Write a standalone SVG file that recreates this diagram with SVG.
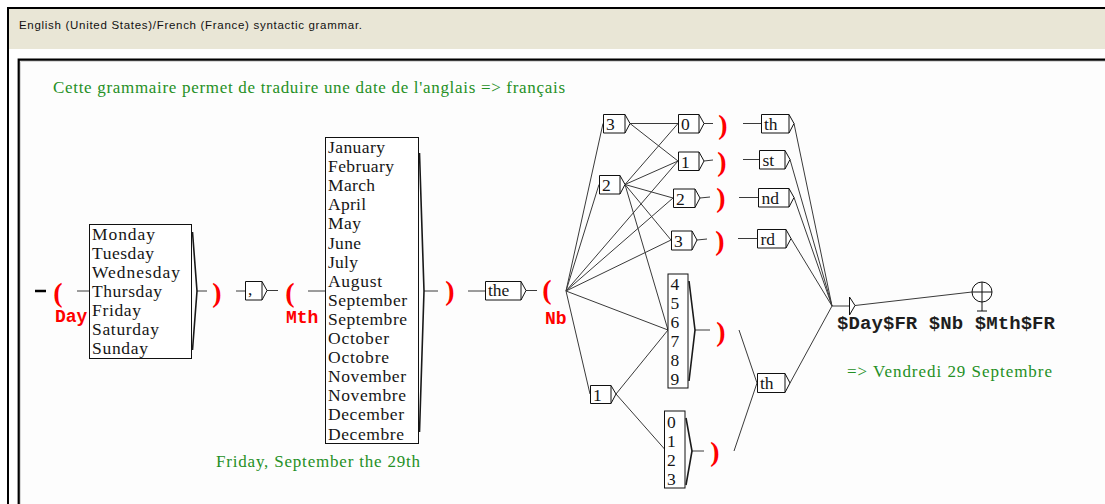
<svg xmlns="http://www.w3.org/2000/svg" width="1105" height="504" viewBox="0 0 1105 504">
<style>
.bx{fill:#fff;stroke:#111;stroke-width:1}
.lb{font-family:"Liberation Serif","Times New Roman",serif;font-size:17.5px;fill:#161616}
.ln{stroke:#3a3a3a;stroke-width:1;fill:none}
.br{stroke:#1a1a1a;stroke-width:1.6;fill:none}
.pa{font-family:"Liberation Serif","Times New Roman",serif;font-size:28px;font-weight:bold;fill:#f00;text-anchor:middle}
.vn{font-family:"Liberation Mono","Courier New",monospace;font-weight:bold;font-size:18px;fill:#f00}
.out{font-family:"Liberation Mono","Courier New",monospace;font-weight:bold;font-size:19px;fill:#1e1e1e}
.cm{font-family:"Liberation Serif","Times New Roman",serif;font-size:17px;fill:#259025}
</style>

<!-- window frame and title band -->
<rect x="0" y="0" width="1105" height="504" fill="#fff"/>
<rect x="9" y="9" width="1096" height="40" fill="#e9e6d6"/>
<path d="M8,504 V8 H1105" fill="none" stroke="#000" stroke-width="2"/>
<text x="19" y="29" font-family="'Liberation Sans',Arial,sans-serif" font-size="11.5" fill="#111" textLength="343">English (United States)/French (France) syntactic grammar.</text>
<rect x="19" y="60" width="1086" height="444" fill="#fdfdfd"/>
<path d="M18.7,504 V59.6 H1105" fill="none" stroke="#000" stroke-width="2.2"/>
<path d="M20.5,504 V61.5 H1105" fill="none" stroke="#d8d8d8" stroke-width="1"/>

<!-- comments -->
<g id="comments">
<text class="cm" x="53" y="93" textLength="512">Cette grammaire permet de traduire une date de l'anglais =&gt; français</text>
<text class="cm" x="216" y="467" textLength="204">Friday, September the 29th</text>
<text class="cm" x="847" y="377" textLength="205">=&gt; Vendredi 29 Septembre</text>
</g>

<!-- transitions -->
<g id="connectors" class="ln">
<line x1="77" y1="291" x2="89" y2="291"/>
<line x1="197" y1="291" x2="207" y2="291"/>
<line x1="236" y1="291" x2="245" y2="291"/>
<line x1="267" y1="290.5" x2="278" y2="290.5"/>
<line x1="308" y1="291" x2="325" y2="291"/>
<line x1="424" y1="291" x2="438" y2="291"/>
<line x1="468" y1="291" x2="485" y2="291"/>
<line x1="526" y1="290.5" x2="537" y2="290.5"/>
<!-- fan out of Nb -->
<line x1="566" y1="291" x2="603" y2="123.5"/>
<line x1="566" y1="291" x2="599" y2="184.5"/>
<line x1="566" y1="291" x2="678" y2="161"/>
<line x1="566" y1="291" x2="673" y2="198"/>
<line x1="566" y1="291" x2="671" y2="240"/>
<line x1="566" y1="291" x2="668" y2="330"/>
<line x1="566" y1="291" x2="590" y2="394"/>
<!-- from 3 -->
<line x1="630" y1="123.5" x2="678" y2="123.5"/>
<line x1="630" y1="123.5" x2="678" y2="161"/>
<!-- from 2 -->
<line x1="625" y1="184.5" x2="678" y2="123.5"/>
<line x1="625" y1="184.5" x2="678" y2="161"/>
<line x1="625" y1="184.5" x2="673" y2="198"/>
<line x1="625" y1="184.5" x2="671" y2="240"/>
<line x1="625" y1="184.5" x2="668" y2="330"/>
<!-- from 1 -->
<line x1="616" y1="394" x2="668" y2="330"/>
<line x1="616" y1="394" x2="664.5" y2="449"/>
<!-- into closing parens -->
<line x1="704" y1="123.5" x2="713" y2="123.5"/>
<line x1="704" y1="161" x2="713" y2="160"/>
<line x1="700" y1="198" x2="710" y2="197"/>
<line x1="697" y1="240" x2="707" y2="239"/>
<line x1="695" y1="330" x2="710" y2="330"/>
<line x1="692" y1="451" x2="704" y2="451"/>
<!-- parens to suffixes -->
<line x1="743" y1="123.5" x2="761" y2="123.5"/>
<line x1="743" y1="159.5" x2="759" y2="159.5"/>
<line x1="739" y1="197.5" x2="758" y2="197.5"/>
<line x1="738" y1="238.5" x2="757" y2="238.5"/>
<line x1="739" y1="330" x2="757" y2="383"/>
<line x1="734" y1="451" x2="757" y2="383"/>
<!-- suffixes to output -->
<line x1="794" y1="123.5" x2="832" y2="306"/>
<line x1="790" y1="159.5" x2="832" y2="306"/>
<line x1="794" y1="197.5" x2="832" y2="306"/>
<line x1="791" y1="238.5" x2="832" y2="306"/>
<line x1="790" y1="383" x2="832" y2="306"/>
<line x1="832" y1="306" x2="849.5" y2="306"/>
<line x1="855" y1="305.5" x2="972" y2="292"/>
</g>

<!-- initial state -->
<g id="initial">
<line x1="35" y1="291" x2="46" y2="291" stroke="#000" stroke-width="2.5"/>
</g>

<!-- variable Day -->
<g id="day-open">
<text class="pa" x="58" y="302">(</text>
<text class="vn" x="55" y="322">Day</text>
</g>
<g id="day-box">
<rect class="bx" x="89.5" y="224.5" width="102" height="134"/>
<text class="lb" x="92" y="240" textLength="63">Monday</text>
<text class="lb" x="92" y="259" textLength="62">Tuesday</text>
<text class="lb" x="92" y="278" textLength="88">Wednesday</text>
<text class="lb" x="92" y="297" textLength="70">Thursday</text>
<text class="lb" x="92" y="316" textLength="49">Friday</text>
<text class="lb" x="92" y="335" textLength="67">Saturday</text>
<text class="lb" x="92" y="354" textLength="56">Sunday</text>
<polyline class="br" points="192.5,232 197,291 192.5,350"/>
</g>
<g id="day-close"><text class="pa" x="217" y="302">)</text></g>

<g id="comma">
<path class="bx" d="M245.5,281.5 H262 V300 H245.5 Z M262,281.5 L267,290.5 L262,300"/>
<text class="lb" x="248" y="295">,</text>
</g>

<!-- variable Mth -->
<g id="mth-open">
<text class="pa" x="290" y="302">(</text>
<text class="vn" x="286" y="323">Mth</text>
</g>
<g id="mth-box">
<rect class="bx" x="325.5" y="137.5" width="93" height="306"/>
<text class="lb" x="328" y="153" textLength="57">January</text>
<text class="lb" x="328" y="172.1" textLength="66">February</text>
<text class="lb" x="328" y="191.2" textLength="47">March</text>
<text class="lb" x="328" y="210.3" textLength="38">April</text>
<text class="lb" x="328" y="229.4" textLength="33">May</text>
<text class="lb" x="328" y="248.5" textLength="33">June</text>
<text class="lb" x="328" y="267.6" textLength="30">July</text>
<text class="lb" x="328" y="286.7" textLength="54">August</text>
<text class="lb" x="328" y="305.8" textLength="79">September</text>
<text class="lb" x="328" y="324.9" textLength="79">Septembre</text>
<text class="lb" x="328" y="344" textLength="61">October</text>
<text class="lb" x="328" y="363.1" textLength="61">Octobre</text>
<text class="lb" x="328" y="382.2" textLength="78">November</text>
<text class="lb" x="328" y="401.3" textLength="78">Novembre</text>
<text class="lb" x="328" y="420.4" textLength="76">December</text>
<text class="lb" x="328" y="439.5" textLength="76">Decembre</text>
<polyline class="br" points="419.5,153 424,291 419.5,432"/>
</g>
<g id="mth-close"><text class="pa" x="450" y="300">)</text></g>

<g id="the">
<path class="bx" d="M485.5,281.5 H521 V300 H485.5 Z M521,281.5 L526,290.5 L521,300"/>
<text class="lb" x="488" y="296">the</text>
</g>

<!-- variable Nb -->
<g id="nb-open">
<text class="pa" x="547" y="299" font-size="26">(</text>
<text class="vn" x="545" y="324">Nb</text>
</g>

<g id="n3">
<path class="bx" d="M603.5,114.5 H625 V133 H603.5 Z M625,114.5 L630,123.5 L625,133"/>
<text class="lb" x="606" y="130">3</text>
</g>
<g id="n2">
<path class="bx" d="M599.5,175.5 H620 V194 H599.5 Z M620,175.5 L625,184.5 L620,194"/>
<text class="lb" x="602" y="191">2</text>
</g>
<g id="n1">
<path class="bx" d="M590.5,385.5 H611 V403.5 H590.5 Z M611,385.5 L616,394 L611,403.5"/>
<text class="lb" x="593" y="400.5">1</text>
</g>
<g id="u0">
<path class="bx" d="M678.5,114.5 H699 V133 H678.5 Z M699,114.5 L704,123.5 L699,133"/>
<text class="lb" x="681" y="130">0</text>
</g>
<g id="u1">
<path class="bx" d="M678.5,152 H699 V170.5 H678.5 Z M699,152 L704,161 L699,170.5"/>
<text class="lb" x="681" y="167.5">1</text>
</g>
<g id="u2">
<path class="bx" d="M673.5,189 H695 V207.5 H673.5 Z M695,189 L700,198 L695,207.5"/>
<text class="lb" x="676" y="204.5">2</text>
</g>
<g id="u3">
<path class="bx" d="M671.5,231 H692 V250 H671.5 Z M692,231 L697,240 L692,250"/>
<text class="lb" x="674" y="246.5">3</text>
</g>
<g id="u4-9">
<rect class="bx" x="668" y="274" width="20" height="114"/>
<text class="lb" x="670.5" y="289.5">4</text>
<text class="lb" x="670.5" y="308.5">5</text>
<text class="lb" x="670.5" y="327.5">6</text>
<text class="lb" x="670.5" y="346.5">7</text>
<text class="lb" x="670.5" y="365.5">8</text>
<text class="lb" x="670.5" y="384.5">9</text>
<polyline class="br" points="689,281 695,330 689,381"/>
</g>
<g id="u0-3">
<rect class="bx" x="664.5" y="411" width="20.5" height="77"/>
<text class="lb" x="667" y="428">0</text>
<text class="lb" x="667" y="447">1</text>
<text class="lb" x="667" y="466">2</text>
<text class="lb" x="667" y="485">3</text>
<polyline class="br" points="686,418 692,451 686,485"/>
</g>

<!-- closing parens of Nb -->
<g id="nb-close">
<text class="pa" x="723" y="133.5">)</text>
<text class="pa" x="722" y="170.5">)</text>
<text class="pa" x="721" y="207">)</text>
<text class="pa" x="720" y="249.5">)</text>
<text class="pa" x="721" y="340.5">)</text>
<text class="pa" x="715" y="461">)</text>
</g>

<g id="s-th">
<path class="bx" d="M761.5,114.5 H789 V133 H761.5 Z M789,114.5 L794,123.5 L789,133"/>
<text class="lb" x="764" y="130">th</text>
</g>
<g id="s-st">
<path class="bx" d="M759.5,150.5 H785 V169 H759.5 Z M785,150.5 L790,159.5 L785,169"/>
<text class="lb" x="762.5" y="166">st</text>
</g>
<g id="s-nd">
<path class="bx" d="M758.5,188.5 H789 V207 H758.5 Z M789,188.5 L794,197.5 L789,207"/>
<text class="lb" x="761.5" y="204">nd</text>
</g>
<g id="s-rd">
<path class="bx" d="M757.5,229.5 H786 V248 H757.5 Z M786,229.5 L791,238.5 L786,248"/>
<text class="lb" x="760.5" y="245">rd</text>
</g>
<g id="s-th2">
<path class="bx" d="M757.5,373.5 H785 V392.5 H757.5 Z M785,373.5 L790,383 L785,392.5"/>
<text class="lb" x="760" y="389">th</text>
</g>

<!-- output box -->
<g id="output">
<path d="M849.5,297 V315 L855,305.5 Z" fill="#fff" stroke="#111" stroke-width="1"/>
<text class="out" x="837" y="329" textLength="218">$Day$FR $Nb $Mth$FR</text>
</g>

<!-- final state -->
<g id="final" fill="none" stroke="#111" stroke-width="1">
<circle cx="982" cy="292" r="10" fill="#fff"/>
<line x1="982" y1="282" x2="982" y2="311"/>
<line x1="972" y1="292" x2="992" y2="292"/>
<line x1="977" y1="311" x2="987" y2="311"/>
</g>
</svg>
